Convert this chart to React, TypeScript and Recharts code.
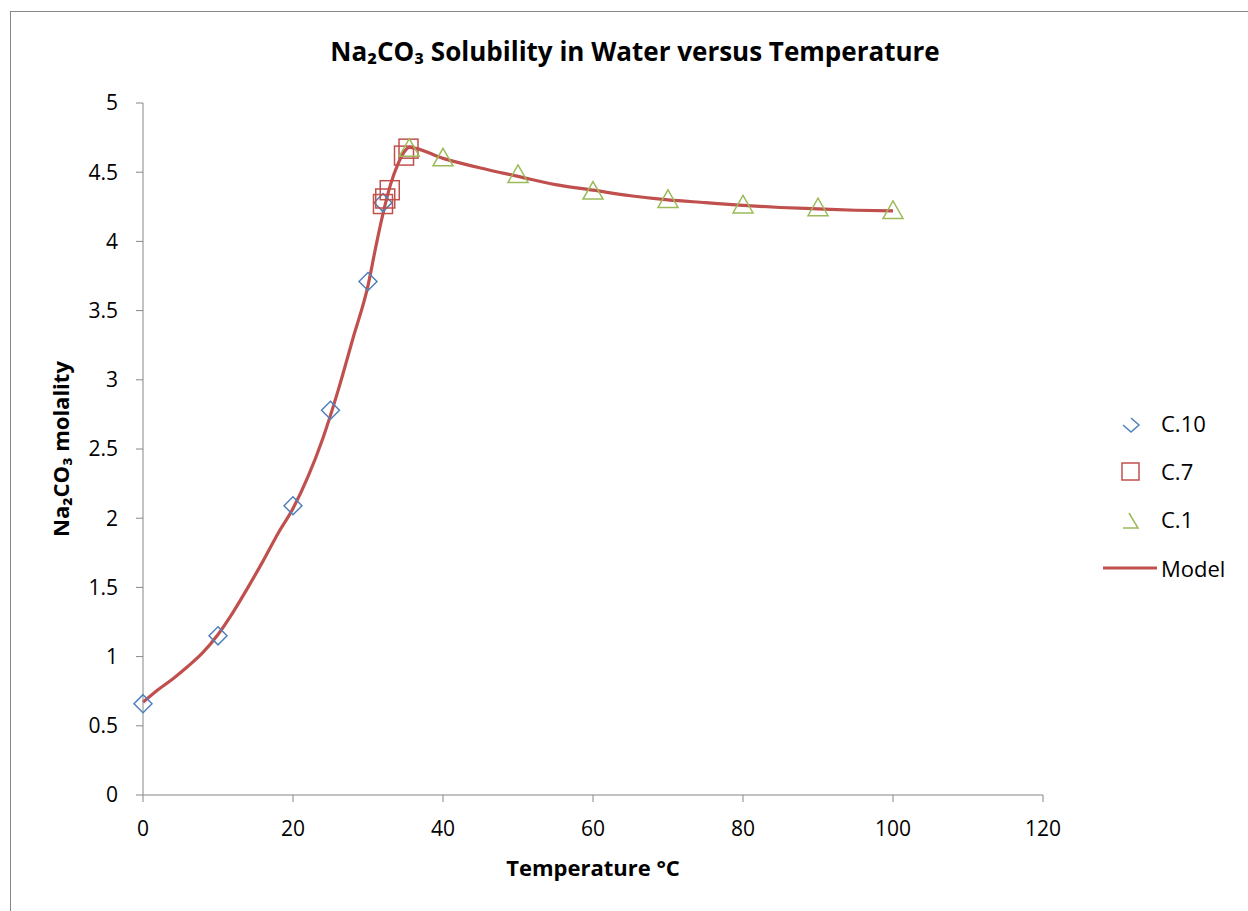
import React from "react";
import { ComposedChart, Scatter, Line, XAxis, YAxis, Label } from "recharts";

const c10T = [0, 10, 20, 25, 30, 32];
const c10M = [0.66, 1.15, 2.09, 2.78, 3.71, 4.28];

const c7T = [32.0, 32.3, 32.9, 34.8, 35.4];
const c7M = [4.27, 4.31, 4.37, 4.62, 4.67];

const c1T = [35.5, 40, 50, 60, 70, 80, 90, 100];
const c1M = [4.67, 4.6, 4.48, 4.36, 4.3, 4.26, 4.24, 4.22];

const modelT = [0, 2, 4, 6, 8, 10, 12, 14, 16, 18, 20, 22, 24, 26, 28, 30, 31, 32, 33, 34, 35, 35.5, 40, 45, 50, 55, 60, 65, 70, 75, 80, 85, 90, 95, 100];
const modelM = [0.67, 0.76, 0.84, 0.93, 1.03, 1.16, 1.32, 1.5, 1.69, 1.89, 2.07, 2.3, 2.58, 2.92, 3.3, 3.68, 3.95, 4.2, 4.41, 4.56, 4.66, 4.68, 4.6, 4.53, 4.47, 4.41, 4.37, 4.33, 4.3, 4.28, 4.26, 4.245, 4.235, 4.225, 4.22];

const xTicks = [0, 20, 40, 60, 80, 100, 120];
const yTicks = [0, 0.5, 1, 1.5, 2, 2.5, 3, 3.5, 4, 4.5, 5];

const zip = (xs: number[], ys: number[]) => xs.map((x, i) => ({ x, y: ys[i] }));

const BLUE = "#4F81BD";
const RED = "#C0504D";
const GREEN = "#9BBB59";
const AXIS = "#868686";
const FONT = "'Open Sans', sans-serif";

const Diamond = (p: any) => {
  const { cx, cy } = p;
  const r = 9;
  return <path d={`M${cx},${cy - r}L${cx + r},${cy}L${cx},${cy + r}L${cx - r},${cy}Z`} fill="none" stroke={BLUE} strokeWidth={1.5} />;
};
const Square = (p: any) => {
  const { cx, cy } = p;
  const r = 9.5;
  return <rect x={cx - r} y={cy - r} width={2 * r} height={2 * r} fill="none" stroke={RED} strokeWidth={1.5} />;
};
const Triangle = (p: any) => {
  const { cx, cy } = p;
  const r = 10;
  return <path d={`M${cx},${cy - r}L${cx + r},${cy + r * 0.75}L${cx - r},${cy + r * 0.75}Z`} fill="none" stroke={GREEN} strokeWidth={1.5} />;
};

const tickStyle = { fontSize: 21, fill: "#000", fontFamily: FONT };
const titleStyle = { fontSize: 22, fontWeight: 700, fill: "#000", fontFamily: FONT };

export default function App() {
  return (
    <div style={{ position: "absolute", left: 0, top: 0, width: 1248, height: 911, overflow: "hidden", background: "#fff", fontFamily: FONT }}>
      <div style={{ position: "absolute", left: 10, top: 11, width: 1400, height: 1100, border: `1.5px solid ${AXIS}` }} />
      <div style={{ position: "absolute", left: 0, top: 33, width: 1270, textAlign: "center", fontWeight: 700, fontSize: 26, color: "#000" }}>
        Na₂CO₃ Solubility in Water versus Temperature
      </div>
      <div style={{ position: "absolute", left: 0, top: 0 }}>
        <ComposedChart width={1248} height={911} margin={{ top: 103, right: 205, bottom: 76, left: 83 }}>
          <XAxis
            type="number"
            dataKey="x"
            domain={[0, 120]}
            ticks={xTicks}
            stroke={AXIS}
            tick={tickStyle}
            tickLine={{ stroke: AXIS }}
            tickSize={7}
            tickMargin={19}
            height={40}
          >
            <Label value="Temperature °C" position="bottom" offset={25} style={titleStyle} />
          </XAxis>
          <YAxis
            type="number"
            dataKey="y"
            domain={[0, 5]}
            ticks={yTicks}
            stroke={AXIS}
            tick={tickStyle}
            tickLine={{ stroke: AXIS }}
            tickSize={7}
            tickMargin={18}
            width={60}
          >
            <Label value="Na₂CO₃ molality" angle={-90} position="left" offset={22} style={{ ...titleStyle, textAnchor: "middle" }} />
          </YAxis>
          <Line data={zip(modelT, modelM)} dataKey="y" type="monotone" stroke={RED} strokeWidth={3.2} dot={false} activeDot={false} isAnimationActive={false} />
          <Scatter data={zip(c10T, c10M)} dataKey="y" shape={Diamond} isAnimationActive={false} />
          <Scatter data={zip(c7T, c7M)} dataKey="y" shape={Square} isAnimationActive={false} />
          <Scatter data={zip(c1T, c1M)} dataKey="y" shape={Triangle} isAnimationActive={false} />
        </ComposedChart>
      </div>
      <svg style={{ position: "absolute", left: 1095, top: 395 }} width={153} height={200}>
        <g fontFamily={FONT} fontSize={22} fill="#000">
          <path d="M28,30 L36,37 L44,30 L36,23" fill="none" stroke={BLUE} strokeWidth={1.5} />
          <text x={66} y={37}>C.10</text>
          <rect x={27} y={68} width={17} height={17} fill="none" stroke={RED} strokeWidth={1.5} />
          <text x={66} y={85}>C.7</text>
          <path d="M34,118 L43,133 L28,133" fill="none" stroke={GREEN} strokeWidth={1.5} />
          <text x={66} y={133}>C.1</text>
          <line x1={8} y1={173} x2={62} y2={173} stroke={RED} strokeWidth={3.2} />
          <text x={66} y={182}>Model</text>
        </g>
      </svg>
    </div>
  );
}
